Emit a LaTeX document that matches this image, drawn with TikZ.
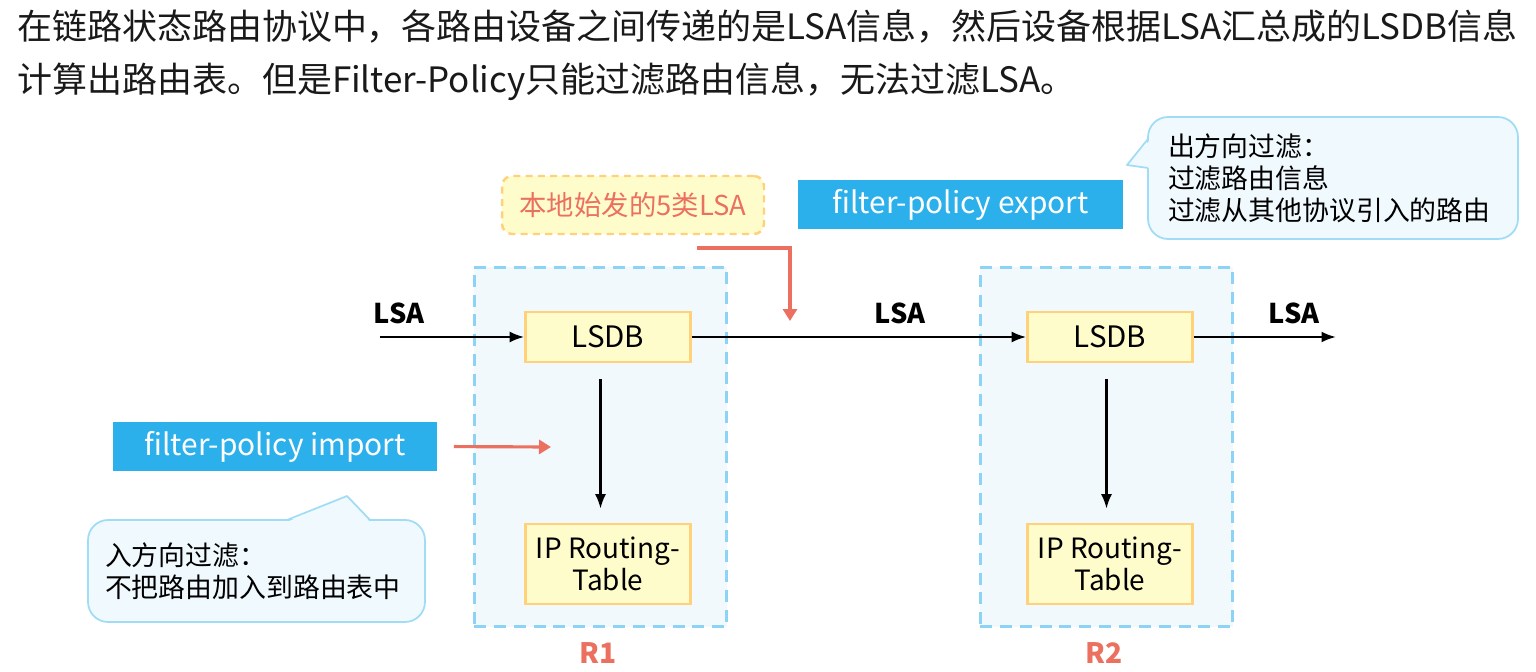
\documentclass[tikz,border=0pt]{standalone}
\usepackage{fontspec}
\setmainfont{Noto Sans CJK SC}
\usepackage{xcolor}
\usepackage{tikz}
\usetikzlibrary{arrows.meta, positioning, calc}

\definecolor{tagblue}{RGB}{44,176,236}
\definecolor{dbfill}{RGB}{255,252,204}
\definecolor{dbline}{RGB}{255,209,122}
\definecolor{rtfill}{RGB}{242,249,253}
\definecolor{rtline}{RGB}{140,211,245}
\definecolor{notefill}{RGB}{240,249,254}
\definecolor{noteline}{RGB}{160,220,245}
\definecolor{hwred}{RGB}{236,112,96}
\definecolor{txtdark}{RGB}{25,25,25}

\tikzset{
  dbbox/.style={draw=dbline, fill=dbfill, line width=1.5pt, minimum width=3.3cm,
    minimum height=1cm, font=\fontsize{16.8}{18}\selectfont},
  rtbox/.style={dbbox, minimum height=1.6cm, align=center, font=\fontsize{15.9}{18.2}\selectfont},
  routerbox/.style={draw=rtline, fill=rtfill, dash pattern=on 6.8pt off 4.5pt,
    line width=1.7pt, minimum width=5.06cm, minimum height=7.2cm},
  tagbox/.style={fill=tagblue, text=white, minimum width=6.5cm, minimum height=0.98cm,
    font=\fontsize{17}{20}\selectfont},
  origbox/.style={draw=dbline, fill=dbfill, dash pattern=on 4pt off 3pt, line width=1.4pt,
    rounded corners=0.2cm, text=hwred, minimum width=5.24cm, minimum height=1.16cm,
    font=\fontsize{15.6}{18}\selectfont},
  notebox/.style={draw=noteline, fill=notefill, line width=1pt, rounded corners=0.4cm,
    align=left, font=\fontsize{15.3}{18.1}\selectfont},
  headline/.style={anchor=west, inner sep=0pt, text=txtdark, font=\fontsize{19.9}{22}\selectfont},
  lsalabel/.style={font=\bfseries\fontsize{15.5}{18}\selectfont},
  rlabel/.style={text=hwred, font=\bfseries\fontsize{16}{18}\selectfont},
  flow/.style={-{Latex[length=0.29cm,width=0.22cm]}, line width=1.3pt},
  redflow/.style={-{Triangle[length=0.24cm,width=0.28cm]}, draw=hwred, line width=1.8pt},
}

\begin{document}
\begin{tikzpicture}[x=0.02cm, y=-0.02cm]
  \path[use as bounding box, fill=white] (0,0) rectangle (1536,672);

  \node[headline] (headA) at (17,27)
    {在链路状态路由协议中，各路由设备之间传递的是LSA信息，然后设备根据LSA汇总成的LSDB信息};
  \node[headline] (headB) at (17,82)
    {计算出路由表。但是Filter-Policy只能过滤路由信息，无法过滤LSA。};

  % routers
  \foreach \r/\x/\b/\n in {A/600.5/608/R1, B/1106.5/1110/R2} {
    \node[routerbox] (router\r) at (\x,447) {};
    \node[dbbox] (lsdb\r) at (\b,337) {LSDB};
    \node[rtbox] (rt\r) at (\b,564) {IP Routing-\\Table};
    \node[rlabel] (name\r) at (\x-2,653) {\n};
    \draw[flow, shorten <=0.32cm, shorten >=0.28cm]
      (lsdb\r.south -| router\r) -- (rt\r.north -| router\r);
  }

  \coordinate (lsaSrc) at (380,337);
  \coordinate (lsaDst) at (1336,337);
  \draw[flow] (lsaSrc) -- (lsdbA.west);
  \draw[flow] (lsdbA.east) -- (lsdbB.west);
  \draw[flow] (lsdbB.east) -- (lsaDst);
  \node[lsalabel] (lsaIn) at (399,313) {LSA};
  \node[lsalabel] (lsaMid) at (900,313) {LSA};
  \node[lsalabel] (lsaOut) at (1294,313) {LSA};

  % export side
  \node[origbox] (origLsa) at (633,205) {本地始发的5类LSA};
  \node[tagbox] (exportTag) at (960.5,204.5) {filter-policy export};
  \coordinate (origStart) at (697,248);
  \coordinate (origEnd) at (790,321);
  \draw[redflow] (origStart) -| (origEnd);

  \node[notebox, text width=6.6cm, inner xsep=0.4cm, minimum height=2.44cm]
    (outNote) at (1333,178) {出方向过滤：\\过滤路由信息\\过滤从其他协议引入的路由};
  \fill[notefill] (1151,139) -- (1127,165) -- (1151,168.5) -- cycle;
  \draw[noteline, line width=1pt, line join=round] (1148,139) -- (1127,165) -- (1148,168);

  % import side
  \node[tagbox] (importTag) at (275,446.5) {filter-policy import};
  \coordinate (importEnd) at (551,447);
  \draw[redflow, shorten <=0.32cm] (importTag.east) -- (importEnd);

  \node[notebox, text width=6.06cm, inner xsep=0.34cm, minimum height=2.04cm]
    (inNote) at (256.5,571) {入方向过滤：\\不把路由加入到路由表中};
  \fill[notefill] (287,522) -- (347,496) -- (370,522) -- cycle;
  \draw[noteline, line width=1pt, line join=round] (287,520) -- (347,496) -- (370,520);
\end{tikzpicture}
\end{document}
